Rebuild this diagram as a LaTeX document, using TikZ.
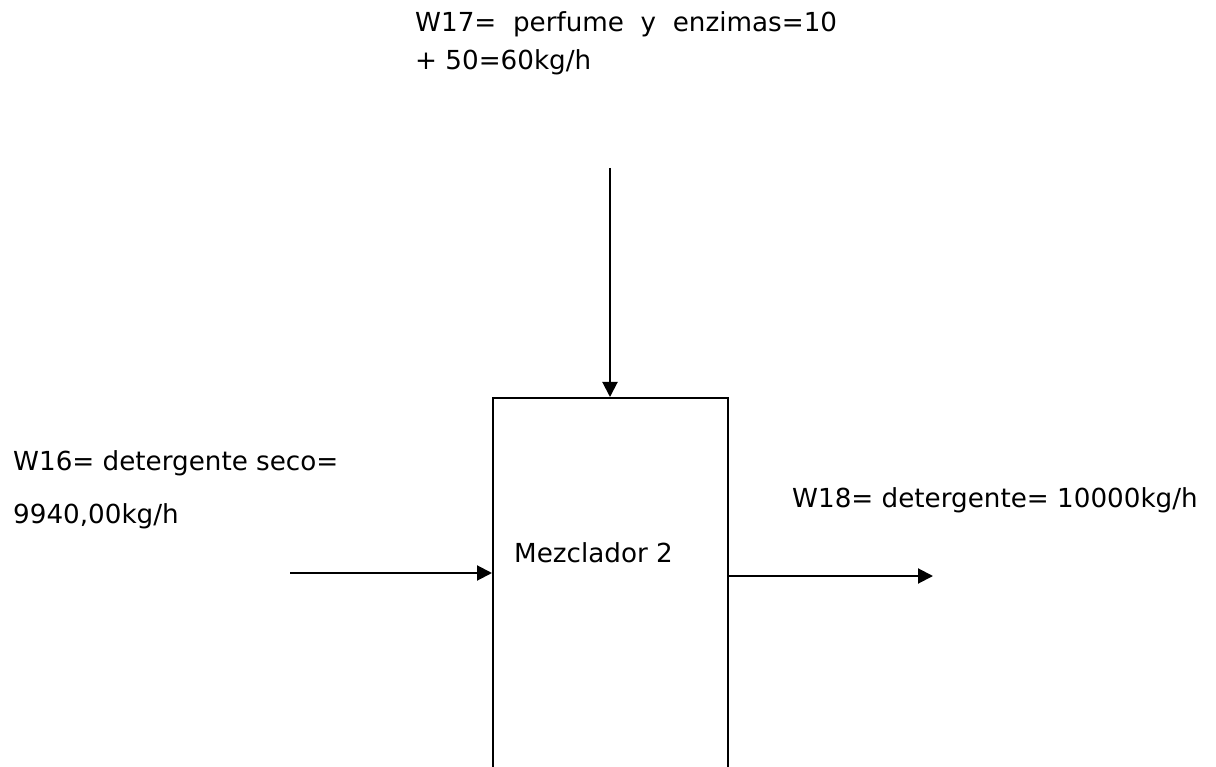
\documentclass[tikz,border=0pt]{standalone}
\usepackage{fontspec}
\setmainfont{DejaVu Sans}
\usetikzlibrary{arrows.meta, positioning}

\begin{document}
\begin{tikzpicture}[x=1pt, y=-1pt,
    lbl/.style={anchor=base west, inner sep=0pt, font=\fontsize{26.2}{30}\selectfont},
    unit/.style={draw=black, line width=2pt, minimum width=235pt, minimum height=420pt,
                 anchor=north west, inner sep=0pt},
    arrow/.style={-{Triangle[length=15pt, width=15pt]}, line width=2pt}
]
\useasboundingbox (0,0) rectangle (1216,767);
\clip (0,0) rectangle (1216,767);

\node[unit] (mixer) at (492,397) {};
\node[lbl] (mixname) at (514,562) {Mezclador 2};

\node[lbl] (w17a) at (415,32) {W17=\ \ perfume\ \ y\ \ enzimas=10};
\node[lbl] (w17b) at (415,70) {+ 50=60kg/h};
\node[lbl] (w16a) at (13,470) {W16= detergente seco=};
\node[lbl] (w16b) at (13,523) {9940,00kg/h};
\node[lbl] (w18)  at (792,507) {W18= detergente= 10000kg/h};

\coordinate (feed17) at (610,168);
\coordinate (feed16) at (290,573);
\coordinate (prod18) at (933,576);

\draw[arrow] (feed17) -- (feed17 |- mixer.north);
\draw[arrow] (feed16) -- (feed16 -| mixer.west);
\draw[arrow] (prod18 -| mixer.east) -- (prod18);
\end{tikzpicture}
\end{document}
